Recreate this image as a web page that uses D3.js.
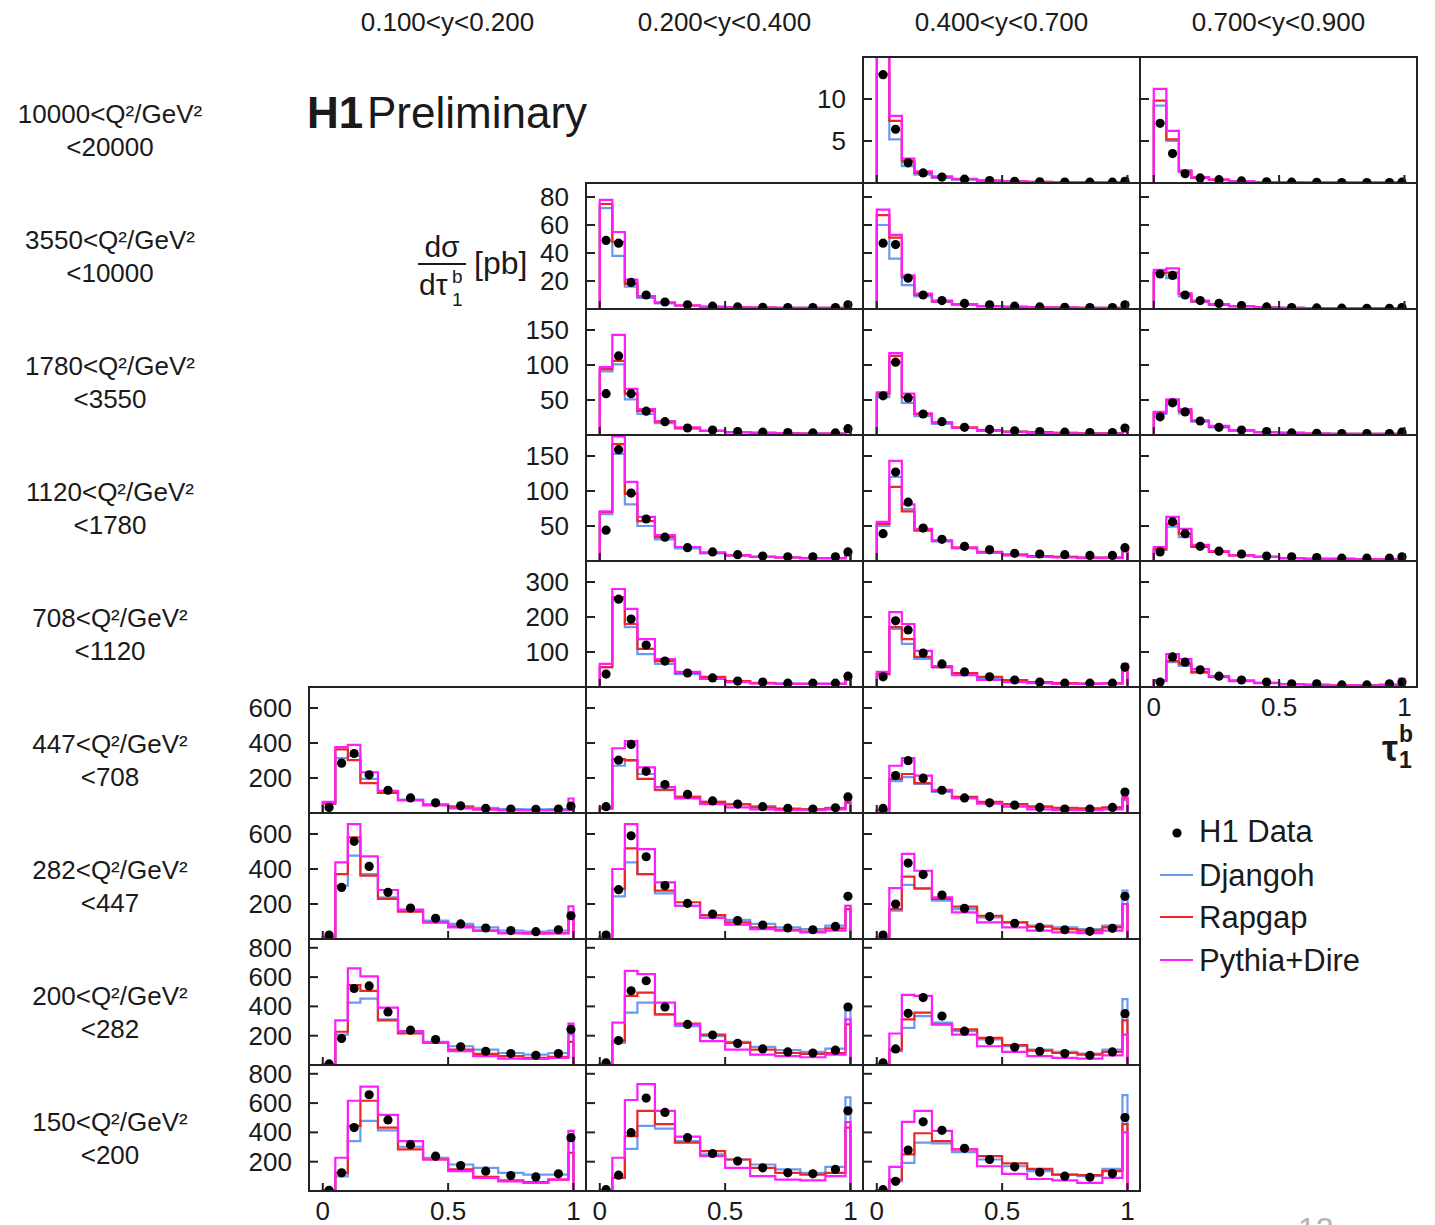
<!DOCTYPE html>
<html><head><meta charset="utf-8">
<script src="https://cdn.jsdelivr.net/npm/d3@7"></script>
<style>body{margin:0;background:#fff;} svg{display:block;font-family:"Liberation Sans",Arial,sans-serif;}</style>
</head><body>
<svg id="chart" width="1435" height="1225"></svg>
<script>
// ---------- data ----------
const binEdges = [0,0.05,0.1,0.15,0.22,0.3,0.4,0.5,0.6,0.7,0.8,0.9,0.98,1.0];
const yBinLabels = ["0.100<y<0.200","0.200<y<0.400","0.400<y<0.700","0.700<y<0.900"];
const q2Line1 = ["10000<Q²/GeV²","3550<Q²/GeV²","1780<Q²/GeV²","1120<Q²/GeV²","708<Q²/GeV²","447<Q²/GeV²","282<Q²/GeV²","200<Q²/GeV²","150<Q²/GeV²"];
const q2Line2 = ["<20000","<10000","<3550","<1780","<1120","<708","<447","<282","<200"];
const rowMax = [15,90,180,180,360,720,720,860,860];
const rowTicks = [[5,10],[20,40,60,80],[50,100,150],[50,100,150],[100,200,300],[200,400,600],[200,400,600],[200,400,600,800],[200,400,600,800]];
const xTicks = [0,0.5,1];
const xTickLabels = ["0","0.5","1"];
const seriesNames = ["H1 Data","Djangoh","Rapgap","Pythia+Dire"];
// [row, col] of every panel, in the order of the value tables below
const panelCells = [[0,2],[0,3],[1,1],[1,2],[1,3],[2,1],[2,2],[2,3],[3,1],[3,2],[3,3],[4,1],[4,2],[4,3],
  [5,0],[5,1],[5,2],[6,0],[6,1],[6,2],[7,0],[7,1],[7,2],[8,0],[8,1],[8,2]];
const h1Data = [
  [12.9,6.4,2.4,1.2,0.7,0.45,0.3,0.2,0.15,0.12,0.1,0.1,0.2],
  [7.1,3.5,1.1,0.6,0.4,0.25,0.15,0.1,0.08,0.06,0.05,0.05,0.1],
  [49,47,19,10,5,3,2,1.5,1.2,1,1,1,3],
  [47,46,22,10,6,4,3,2,1.5,1.2,1,1,3],
  [25,24,10,6,4,2.5,1.5,1,0.8,0.6,0.5,0.5,1],
  [59,113,59,34,19,10,7,5,4,3.5,3,3,9],
  [56,104,53,30,19,11,8,6,5,4,3.5,3.5,10],
  [26,46,33,20,11,7,5,3,2.5,2,2,2,4],
  [44,159,97,60,34,19,13,9,7,6,6,6,13],
  [39,127,84,47,31,21,16,11,10,9,8,8,19],
  [13,56,39,21,14,10,7,6,5,4,4,4,6],
  [37,251,194,120,74,40,26,17,14,11,11,11,31],
  [29,189,163,97,66,43,29,20,14,11,11,11,57],
  [14,86,71,49,31,20,14,9,9,6,6,9,14],
  [32,285,340,218,130,86,58,41,26,23,21,23,39],
  [36,302,392,238,163,107,69,51,36,26,23,30,92],
  [26,214,299,199,130,86,58,45,32,23,23,32,120],
  [23,295,558,415,267,177,118,86,63,48,42,53,133],
  [23,282,590,470,305,204,143,105,80,63,53,72,244],
  [23,200,434,368,251,175,128,90,67,53,44,61,244],
  [7,181,522,540,362,238,174,124,94,78,66,78,243],
  [14,167,506,575,396,277,204,147,110,89,82,101,396],
  [14,110,353,460,334,231,167,121,94,78,66,89,350],
  [5,124,433,657,485,316,238,174,135,105,96,117,364],
  [9,108,398,634,536,364,256,204,158,124,117,147,547],
  [9,66,279,472,414,291,215,165,128,101,94,119,501]
];
const djangoh = [
  [13,5.2,2.0,1.0,0.6,0.4,0.25,0.18,0.12,0.1,0.08,0.08,0.3],
  [9.2,5.0,1.3,0.6,0.35,0.2,0.12,0.08,0.05,0.04,0.04,0.04,0.1],
  [72,38,16,8,4,2.5,1.5,1.2,1,0.8,0.8,0.8,2],
  [60,36,17,9,5,3,2,1.5,1.2,1,0.8,0.8,2],
  [26,22,9,5,3,2,1.2,0.8,0.6,0.5,0.4,0.4,0.8],
  [91,101,51,30,17,9,6,4,3,2.5,2,2,5],
  [54,104,46,27,16,10,7,5,4,3,2.5,2.5,8],
  [30,44,31,19,11,6,4,3,2,1.5,1.5,1.5,3],
  [67,153,81,50,31,18,11,8,6,5,4,4,9],
  [50,120,74,43,28,18,12,9,7,6,5,5,14],
  [16,49,34,20,13,8,6,4,3,3,2.5,2.5,4],
  [57,251,171,94,66,37,24,16,12,10,9,9,22],
  [37,166,123,80,57,37,26,18,13,10,9,10,51],
  [18,71,60,40,28,18,12,8,6,5,5,6,12],
  [54,314,327,195,120,77,51,39,30,23,21,23,45],
  [26,270,299,223,130,92,64,51,39,26,23,30,64],
  [15,182,205,167,120,88,60,49,36,26,23,30,73],
  [10,305,476,371,238,162,105,86,67,48,42,48,152],
  [10,244,438,371,261,190,133,109,86,67,57,76,190],
  [10,162,309,286,219,171,124,95,76,67,57,76,276],
  [5,208,426,453,311,224,158,128,105,82,71,82,208],
  [5,151,357,426,346,266,197,158,124,101,89,112,396],
  [5,94,254,334,289,231,174,128,105,89,78,105,449],
  [3,100,341,478,414,302,227,181,158,124,112,112,364],
  [3,89,288,444,426,341,250,215,181,147,124,165,639],
  [3,66,192,330,325,266,215,169,135,112,101,151,655]
];
const rapgap = [
  [17,7.4,2.6,1.2,0.7,0.45,0.3,0.2,0.15,0.1,0.08,0.08,0.3],
  [9.8,5.2,1.4,0.65,0.4,0.22,0.12,0.08,0.05,0.04,0.04,0.04,0.1],
  [75,48,18,9,4.5,2.5,1.5,1.2,1,0.8,0.8,0.8,2],
  [67,51,23,10,5.5,3.5,2,1.5,1.2,1,0.8,0.8,2],
  [26,26,11,5.5,3.2,2,1.2,0.8,0.6,0.5,0.4,0.4,0.8],
  [94,106,59,34,19,10,6,4,3,2.5,2,2,5],
  [59,113,54,30,18,11,7,5,4,3,2.5,2.5,8],
  [32,49,34,20,12,7,4,3,2,1.5,1.5,1.5,3],
  [70,167,96,57,34,20,12,8,6,5,4,4,10],
  [53,106,71,44,29,19,13,9,7,6,5,5,14],
  [17,53,39,20,13,8,6,4,3,3,2.5,2.5,4],
  [57,257,180,109,74,40,29,17,11,9,9,9,26],
  [37,171,137,86,57,40,29,20,14,11,10,10,46],
  [18,74,66,43,29,18,12,8,6,5,5,6,14],
  [54,364,302,171,115,73,45,32,21,17,17,17,54],
  [26,308,302,195,133,92,64,49,32,23,21,26,58],
  [15,195,223,171,126,92,64,51,36,30,26,32,83],
  [10,371,581,362,229,156,95,72,48,34,32,34,124],
  [10,286,518,371,276,210,137,95,67,53,42,61,171],
  [10,171,356,290,229,185,133,95,70,57,48,67,200],
  [5,227,545,506,305,215,151,105,76,60,48,55,158],
  [5,167,472,494,346,282,208,151,105,82,76,82,277],
  [5,105,311,357,277,243,185,135,98,82,71,89,305],
  [3,124,444,616,433,284,215,147,96,73,60,78,261],
  [3,89,375,547,456,330,272,215,158,124,112,124,433],
  [3,78,250,394,341,284,238,188,151,112,108,135,456]
];
const pythiaDire = [
  [18,8.0,2.9,1.4,0.8,0.5,0.3,0.2,0.15,0.1,0.08,0.1,0.5],
  [11.2,6.2,1.5,0.7,0.4,0.22,0.12,0.08,0.05,0.04,0.04,0.04,0.1],
  [78,55,21,9,4.5,2.5,1.5,1.2,1,0.8,0.8,0.8,3],
  [71,53,24,11,6,3.5,2,1.5,1.2,1,0.8,0.8,3],
  [28,29,11,6,3.5,2,1.2,0.8,0.6,0.5,0.4,0.4,1],
  [97,143,66,37,20,11,6,4,3,2.5,2,2,6],
  [61,117,59,31,18,10,6,4,3,2.5,2,2,8],
  [33,51,37,21,13,7,4,3,2,1.5,1.5,1.5,3],
  [71,178,113,63,37,20,12,8,6,5,4,4,12],
  [56,143,81,46,29,19,12,8,6,5,4,4,15],
  [20,63,46,23,14,8,6,4,3,3,2.5,2.5,4],
  [66,280,223,137,80,43,23,14,10,9,9,9,37],
  [43,214,180,103,60,34,20,14,11,9,9,11,66],
  [20,94,80,51,31,17,11,8,6,5,5,6,23],
  [64,377,389,233,126,73,45,26,21,17,17,17,83],
  [26,370,411,261,148,83,51,32,21,17,17,21,83],
  [15,270,314,214,133,83,54,36,21,17,17,21,92],
  [10,438,657,472,280,168,95,67,48,34,32,32,187],
  [10,400,657,514,324,190,120,82,57,48,38,48,190],
  [10,291,486,390,238,152,95,67,48,38,34,48,200],
  [5,305,660,605,392,231,151,94,60,44,41,48,282],
  [5,289,643,620,426,277,163,105,71,60,53,71,311],
  [5,215,479,472,277,208,128,89,60,48,44,66,208],
  [3,227,616,712,520,341,215,135,89,66,55,78,410],
  [3,227,621,730,547,371,238,158,101,78,73,101,470],
  [3,165,472,547,410,284,169,117,82,73,55,89,400]
];

// ---------- layout ----------
const colLeft = [309, 586, 863, 1140];
const panelW = 277, panelH = 126, rowTop0 = 57;
const lineColors = {Djangoh:"#6a9af0", Rapgap:"#f02525", "Pythia+Dire":"#ff1cff"};
const txt = "#1a1a1a";

const svg = d3.select("#chart");
svg.append("rect").attr("width",1435).attr("height",1225).attr("fill","#fff");

// column headers
yBinLabels.forEach((t,c)=>{
  svg.append("text").attr("x", colLeft[c]+panelW/2).attr("y", 22)
    .attr("text-anchor","middle").attr("dominant-baseline","central")
    .attr("font-size",26).attr("fill",txt).text(t);
});
// row labels
q2Line1.forEach((t,r)=>{
  const top = rowTop0 + r*panelH;
  svg.append("text").attr("x",110).attr("y",top+57).attr("text-anchor","middle")
    .attr("dominant-baseline","central").attr("font-size",26).attr("fill",txt).text(t);
  svg.append("text").attr("x",110).attr("y",top+90).attr("text-anchor","middle")
    .attr("dominant-baseline","central").attr("font-size",26).attr("fill",txt).text(q2Line2[r]);
});

const leftCol = {};
panelCells.forEach(([r,c])=>{ if(leftCol[r]===undefined || c<leftCol[r]) leftCol[r]=c; });
const bottomRow = {};
panelCells.forEach(([r,c])=>{ if(bottomRow[c]===undefined || r>bottomRow[c]) bottomRow[c]=r; });

const defs = svg.append("defs");

panelCells.forEach(([r,c],i)=>{
  const x0 = colLeft[c], y0 = rowTop0 + r*panelH;
  const x = d3.scaleLinear().domain([-0.055,1.05]).range([x0, x0+panelW]);
  const y = d3.scaleLinear().domain([0,rowMax[r]]).range([y0+panelH, y0]);
  const g = svg.append("g");
  const clipId = "clip"+i;
  defs.append("clipPath").attr("id",clipId).append("rect")
    .attr("x",x0).attr("y",y0).attr("width",panelW).attr("height",panelH);
  const inner = g.append("g").attr("clip-path",`url(#${clipId})`);

  const stepLine = d3.line().x(d=>x(d[0])).y(d=>y(d[1]));
  const stepPts = vals => {
    const pts = [[binEdges[0],0]];
    vals.forEach((v,k)=>{ pts.push([binEdges[k],v]); pts.push([binEdges[k+1],v]); });
    pts.push([binEdges[binEdges.length-1],0]);
    return pts;
  };
  [["Djangoh",djangoh[i]],["Rapgap",rapgap[i]],["Pythia+Dire",pythiaDire[i]]].forEach(([name,vals])=>{
    inner.append("path").attr("d",stepLine(stepPts(vals))).attr("fill","none")
      .attr("stroke",lineColors[name]).attr("stroke-width",2.2).attr("stroke-linejoin","miter");
  });
  inner.selectAll("circle.pt").data(h1Data[i]).join("circle")
    .attr("cx",(d,k)=>x((binEdges[k]+binEdges[k+1])/2)).attr("cy",d=>y(d)).attr("r",4.6).attr("fill","#000");

  rowTicks[r].forEach(t=>{
    g.append("line").attr("x1",x0).attr("x2",x0+9).attr("y1",y(t)).attr("y2",y(t))
      .attr("stroke","#222").attr("stroke-width",2);
  });
  xTicks.forEach(t=>{
    g.append("line").attr("x1",x(t)).attr("x2",x(t)).attr("y1",y0+panelH).attr("y2",y0+panelH-8)
      .attr("stroke","#222").attr("stroke-width",2);
  });
  g.append("rect").attr("x",x0).attr("y",y0).attr("width",panelW).attr("height",panelH)
    .attr("fill","none").attr("stroke","#222").attr("stroke-width",2);

  if(leftCol[r]===c){
    rowTicks[r].forEach(t=>{
      svg.append("text").attr("x",x0-17).attr("y",y(t)).attr("text-anchor","end")
        .attr("dominant-baseline","central").attr("font-size",26).attr("fill",txt).text(t);
    });
  }
  if(bottomRow[c]===r){
    xTicks.forEach((t,k)=>{
      svg.append("text").attr("x",x(t)).attr("y",y0+panelH+20).attr("text-anchor","middle")
        .attr("dominant-baseline","central").attr("font-size",26).attr("fill",txt).text(xTickLabels[k]);
    });
  }
});

// H1 Preliminary
svg.append("text").attr("x",307).attr("y",128).attr("font-size",44).attr("font-weight","bold").attr("fill",txt).text("H1");
svg.append("text").attr("x",367).attr("y",128).attr("font-size",44).attr("fill",txt).text("Preliminary");

// y-axis title dσ/dτ1b [pb]
svg.append("text").attr("x",442).attr("y",257).attr("text-anchor","middle").attr("font-size",30).attr("fill",txt).text("dσ");
svg.append("line").attr("x1",418).attr("x2",466).attr("y1",264).attr("y2",264).attr("stroke",txt).attr("stroke-width",2);
svg.append("text").attr("x",419).attr("y",295).attr("font-size",30).attr("fill",txt).text("dτ");
svg.append("text").attr("x",452).attr("y",283).attr("font-size",19).attr("fill",txt).text("b");
svg.append("text").attr("x",452).attr("y",306).attr("font-size",19).attr("fill",txt).text("1");
svg.append("text").attr("x",474).attr("y",274).attr("font-size",32).attr("fill",txt).text("[pb]");

// x-axis title tau_1^b
svg.append("text").attr("x",1382).attr("y",761).attr("font-size",36).attr("font-weight","bold").attr("fill",txt).text("τ");
svg.append("text").attr("x",1399).attr("y",742).attr("font-size",23).attr("font-weight","bold").attr("fill",txt).text("b");
svg.append("text").attr("x",1399).attr("y",768).attr("font-size",23).attr("font-weight","bold").attr("fill",txt).text("1");

// legend
const legY = [831, 875, 917, 960];
seriesNames.forEach((n,k)=>{
  if(k===0){
    svg.append("circle").attr("cx",1177).attr("cy",legY[k]+2).attr("r",4.6).attr("fill","#000");
  } else {
    svg.append("line").attr("x1",1160).attr("x2",1193).attr("y1",legY[k]).attr("y2",legY[k])
      .attr("stroke",lineColors[n]).attr("stroke-width",2.2);
  }
  svg.append("text").attr("x",1199).attr("y",legY[k]).attr("dominant-baseline","central")
    .attr("font-size",31).attr("fill",txt).text(n);
});

// page number (cut off at bottom edge, as on the slide)
svg.append("text").attr("x",1298).attr("y",1240).attr("font-size",32).attr("fill","#b5b5b5").text("12");
</script>
</body></html>
